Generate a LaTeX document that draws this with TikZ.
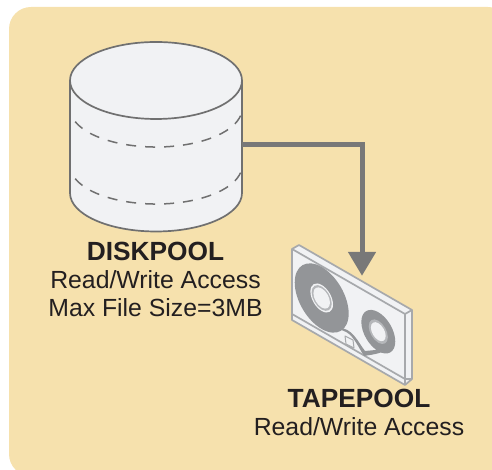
\documentclass[tikz,border=0pt]{standalone}
\usepackage{fontspec}
\setmainfont{Liberation Sans}
\usetikzlibrary{arrows.meta,positioning}
\definecolor{panelcolor}{HTML}{F6E1AD}
\definecolor{facecolor}{HTML}{F1F2F4}
\definecolor{diskline}{HTML}{707070}
\definecolor{tapeline}{HTML}{A7A9AC}
\definecolor{reelcolor}{HTML}{939598}
\definecolor{hubcolor}{HTML}{B5B7BA}
\definecolor{pipecolor}{HTML}{787878}
\definecolor{labelcolor}{HTML}{231F20}
\tikzstyle{shell} = [
  rectangle, inner sep = 0pt
]
\tikzstyle{label} = [
  rectangle, inner sep = 0pt, align = center, text = labelcolor,
  font = \fontsize{24.8}{28}\selectfont
]
\tikzstyle{tapeedge} = [
  draw = tapeline, line width = 1.7pt, line join = round
]
\newcommand{\poolname}[1]{{\fontsize{26.3}{28}\selectfont\bfseries #1}}

\begin{document}
\begin{tikzpicture}[x=1pt, y=1pt]
    \useasboundingbox (0,0) rectangle (492,470);
    \clip (0,0) rectangle (492,470);
    \fill[panelcolor, rounded corners=22pt] (9,-6) rectangle (510,463);

    \node[shell, minimum width=172pt, minimum height=189pt] (disk) at (156,334.5) {};
    \node[shell, minimum width=120pt, minimum height=140pt] (tape) at (352,155) {};
    \node[label, below=11.5pt of disk, xshift=-0.5pt] (diskpool) {\poolname{DISKPOOL}\\Read/Write Access\\Max File Size=3MB};
    \node[label, below=3.5pt of tape, xshift=7pt] (tapepool) {\poolname{TAPEPOOL}\\Read/Write Access};

    % cylinder
    \draw[diskline, fill=facecolor, line width=1.7pt]
      (70,389.5) -- (70,277) arc[start angle=180, end angle=360, x radius=86, y radius=38.5]
      -- (242,389.5) arc[start angle=0, end angle=180, x radius=86, y radius=38.5];
    \draw[diskline, line width=1.7pt] (70,389.5) arc[start angle=180, end angle=360, x radius=86, y radius=38.5];
    \foreach \dashy in {361.5,304.5} {
      \draw[diskline, line width=1.5pt, dash pattern=on 10pt off 9pt]
        (75.2,\dashy-13.2) arc[start angle=200, end angle=358, x radius=86, y radius=38.5];
    }

    % cartridge
    \fill[facecolor] (292,221) -- (299,225) -- (412,160) -- (412,91) -- (405,85) -- (292,150) -- cycle;
    \draw[tapeedge] (292,221) -- (299,225) -- (412,160) -- (412,91) -- (405,85) -- (292,150) -- cycle;
    \draw[tapeedge] (292,221) -- (405,156) -- (405,85);
    \draw[tapeedge] (405,156) -- (412,160);
    \draw[tapeedge] (292,156) -- (405,91) -- (412,91);

    % spools
    \begin{scope}[cm={0.87,-0.5,0,1,(321.7,172)}]
      \fill[reelcolor] (0,0) circle (31);
      \fill[facecolor] (0,0) circle (13);
      \fill[hubcolor] (0,0) circle (11.5);
      \fill[facecolor] (0,0) circle (9.5);
    \end{scope}
    \begin{scope}[cm={0.87,-0.5,0,1,(378.3,138.3)}]
      \fill[reelcolor] (0,0) circle (19.5);
      \fill[hubcolor] (0,0) circle (11);
      \fill[facecolor] (0,0) circle (8.5);
    \end{scope}
    \fill[reelcolor] (338,142) .. controls (352,143) and (358,128) .. (365,119)
      .. controls (375,120) and (385,120) .. (393,127)
      .. controls (385,116) and (375,116) .. (364,114)
      .. controls (358,124) and (354,132) .. (349,136)
      .. controls (346,139) and (342,139) .. (338,142) -- cycle;
    \draw[draw=tapeline, line width=1pt, line join=round] (345,134) -- (353,130) -- (354,122) -- (346,126) -- cycle;

    % link
    \draw[pipecolor, line width=5pt, -{Triangle[length=24pt, width=27pt]}, shorten >=-31pt]
      ([yshift=-9.5pt] disk.east) -| ([xshift=10pt] tape.north);
\end{tikzpicture}
\end{document}
